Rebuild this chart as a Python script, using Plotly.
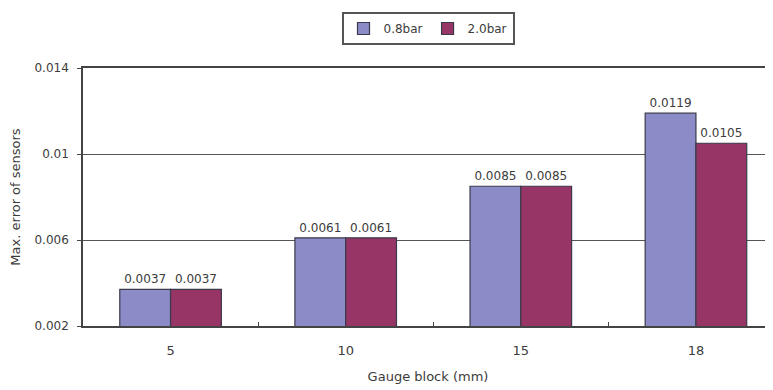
import plotly.graph_objects as go

categories = ["5", "10", "15", "18"]
series_names = ["0.8bar", "2.0bar"]
values_08 = [0.0037, 0.0061, 0.0085, 0.0119]
values_20 = [0.0037, 0.0061, 0.0085, 0.0105]
y_ticks = [0.002, 0.006, 0.01, 0.014]
y_tick_labels = ["0.002", "0.006", "0.01", "0.014"]

colors = ["#8B8BC8", "#973567"]
font = "DejaVu Sans, Verdana, sans-serif"
txt = "#3c3c3c"

fig = go.Figure()
for name, vals, col in zip(series_names, [values_08, values_20], colors):
    fig.add_trace(go.Bar(
        x=categories, y=vals, name=name,
        marker=dict(color=col, line=dict(color="#3a3a4a", width=1.2)),
        text=[f"{v:g}" for v in vals], textposition="outside",
        constraintext="none", cliponaxis=False,
        textfont=dict(family=font, size=12, color=txt),
    ))

# page body has an 8px default margin, so the figure is offset by 8px
fig.update_layout(
    width=765, height=382,
    margin=dict(l=75, r=0, t=60, b=64, autoexpand=False),
    paper_bgcolor="white", plot_bgcolor="white",
    barmode="group", bargap=0.42, bargroupgap=0,
    font=dict(family=font, size=12, color=txt),
    showlegend=True,
    legend=dict(orientation="h", x=0.5, xanchor="center", y=1.217, yanchor="top",
                bordercolor="#555", borderwidth=2,
                font=dict(size=12), traceorder="normal", itemwidth=30),
)
fig.update_xaxes(
    type="category", range=[-0.5, 3.44], automargin=False,
    showline=True, linecolor="#444", linewidth=1.5, mirror=True,
    ticks="inside", tickson="boundaries", ticklen=4, tickcolor="#444",
    title=dict(text="Gauge block (mm)", font=dict(size=13)),
    tickfont=dict(size=13), ticklabelstandoff=12,
)
fig.update_yaxes(
    range=[0.002, 0.014], tickvals=y_ticks, ticktext=y_tick_labels, automargin=False,
    showline=True, linecolor="#444", linewidth=1.5,
    ticks="outside", ticklen=4, tickcolor="#444",
    showgrid=True, gridcolor="#555", gridwidth=1,
    title=dict(text="Max. error of sensors", font=dict(size=13)),
    tickfont=dict(size=12), ticklabelstandoff=6,
)
fig.write_html("out.html")
